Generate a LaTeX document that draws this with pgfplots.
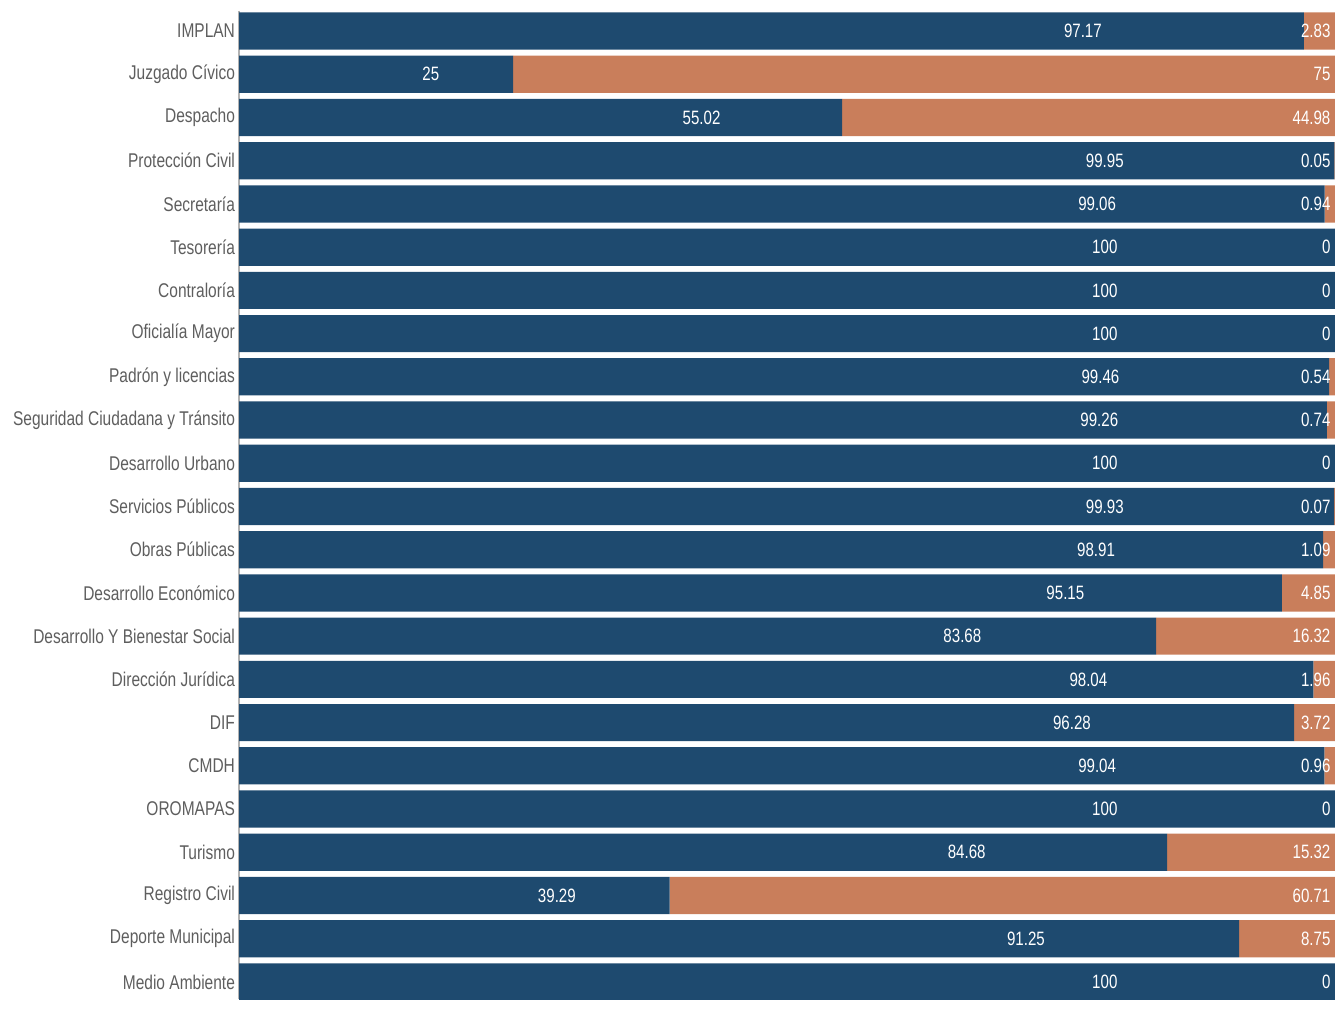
\documentclass[border=0pt]{standalone}
\usepackage{pgfplots}
\pgfplotsset{compat=1.18}
\usepackage{pgfplotstable}
\usepackage{fontspec}
\setmainfont{Liberation Sans}[FakeStretch=0.78]
\definecolor{cblue}{HTML}{1E4A6F}
\definecolor{corange}{HTML}{C97E5B}
\definecolor{ctxt}{HTML}{5E5E5E}
\pgfplotstableread[col sep=comma]{
idx,a,b,la
0,97.17,2.83,77.0
1,25,75,17.5
2,55.02,44.98,42.2
3,99.95,0.05,79.0
4,99.06,0.94,78.3
5,100,0,79.0
6,100,0,79.0
7,100,0,79.0
8,99.46,0.54,78.6
9,99.26,0.74,78.5
10,100,0,79.0
11,99.93,0.07,79.0
12,98.91,1.09,78.2
13,95.15,4.85,75.4
14,83.68,16.32,66.0
15,98.04,1.96,77.5
16,96.28,3.72,76.0
17,99.04,0.96,78.3
18,100,0,79.0
19,84.68,15.32,66.4
20,39.29,60.71,29.0
21,91.25,8.75,71.8
22,100,0,79.0
}\data
\begin{document}
\begin{tikzpicture}
\pgfplotsset{common/.style={
  scale only axis, width=408pt, height=368pt,
  xmin=0, xmax=100, ymin=-0.47, ymax=22.4, y dir=reverse,
}}
\begin{axis}[common,
  xbar stacked, bar width=0.86,
  axis x line=none, axis y line*=left,
  axis line style={draw=gray!60, line width=0.5pt},
  ytick={0,...,22}, major tick length=0,
  yticklabels={IMPLAN,Juzgado Cívico,Despacho,Protección Civil,Secretaría,Tesorería,Contraloría,Oficialía Mayor,Padrón y licencias,Seguridad Ciudadana y Tránsito,Desarrollo Urbano,Servicios Públicos,Obras Públicas,Desarrollo Económico,Desarrollo Y Bienestar Social,Dirección Jurídica,DIF,CMDH,OROMAPAS,Turismo,Registro Civil,Deporte Municipal,Medio Ambiente},
  yticklabel style={font=\fontsize{7.4}{8}\selectfont, text=ctxt, xshift=2pt},
]
\addplot[fill=cblue, draw=none] table[x=a, y=idx] {\data};
\addplot[fill=corange, draw=none] table[x=b, y=idx] {\data};
\end{axis}
\begin{axis}[common, hide axis]
\addplot[draw=none, mark=none, nodes near coords, point meta=explicit symbolic,
  every node near coord/.style={anchor=center, text=white, font=\fontsize{7.2}{8}\selectfont, inner sep=0pt}]
  table[x=la, y=idx, meta=a] {\data};
\addplot[draw=none, mark=none, nodes near coords, point meta=explicit symbolic,
  every node near coord/.style={anchor=east, text=white, font=\fontsize{7.2}{8}\selectfont, inner sep=0pt, xshift=-1.5pt}]
  table[x expr=100, y=idx, meta=b] {\data};
\end{axis}
\path (-89pt,-8pt) (411pt,372pt);
\end{tikzpicture}
\end{document}
